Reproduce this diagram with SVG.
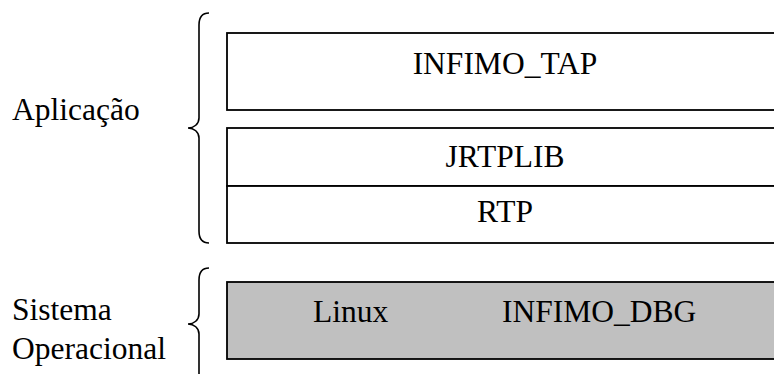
<svg xmlns="http://www.w3.org/2000/svg" width="774" height="374" viewBox="0 0 774 374">
  <style>
    .box { fill: #ffffff; stroke: #000000; stroke-width: 1.8; }
    .os { fill: #c0c0c0; stroke: #000000; stroke-width: 1.8; }
    .brace { fill: none; stroke: #000000; stroke-width: 1.6; }
    text { font-family: "Liberation Serif", "Times New Roman", serif; font-size: 31.5px; fill: #000000; }
    .c { text-anchor: middle; }
  </style>

  <!-- layer labels -->
  <g id="label-aplicacao">
    <text x="12" y="120">Aplicação</text>
  </g>
  <g id="label-so">
    <text x="12" y="320">Sistema</text>
    <text x="12" y="359">Operacional</text>
  </g>

  <!-- braces grouping the layers -->
  <g id="braces">
    <path class="brace" d="M209,13 C203,13 199,17 199,25 L199,118 C199,124 194,128 188,128 C194,128 199,132 199,138 L199,231 C199,239 203,243 209,243"/>
    <path class="brace" d="M209,268 C203,268 199,272 199,280 L199,314 C199,320 194,324 188,324 C194,324 199,328 199,334 L199,380"/>
  </g>

  <!-- application layer -->
  <g id="infimo-tap">
    <rect class="box" x="227" y="33" width="580" height="77"/>
    <text class="c" x="505" y="74">INFIMO_TAP</text>
  </g>
  <g id="jrtplib">
    <rect class="box" x="227" y="128" width="580" height="58"/>
    <text class="c" x="505" y="167">JRTPLIB</text>
  </g>
  <g id="rtp">
    <rect class="box" x="227" y="186" width="580" height="57"/>
    <text class="c" x="505" y="222">RTP</text>
  </g>

  <!-- operating system layer -->
  <g id="linux">
    <rect class="os" x="227" y="282" width="580" height="77"/>
    <text x="313" y="322">Linux</text>
    <text x="502" y="322">INFIMO_DBG</text>
  </g>
</svg>
